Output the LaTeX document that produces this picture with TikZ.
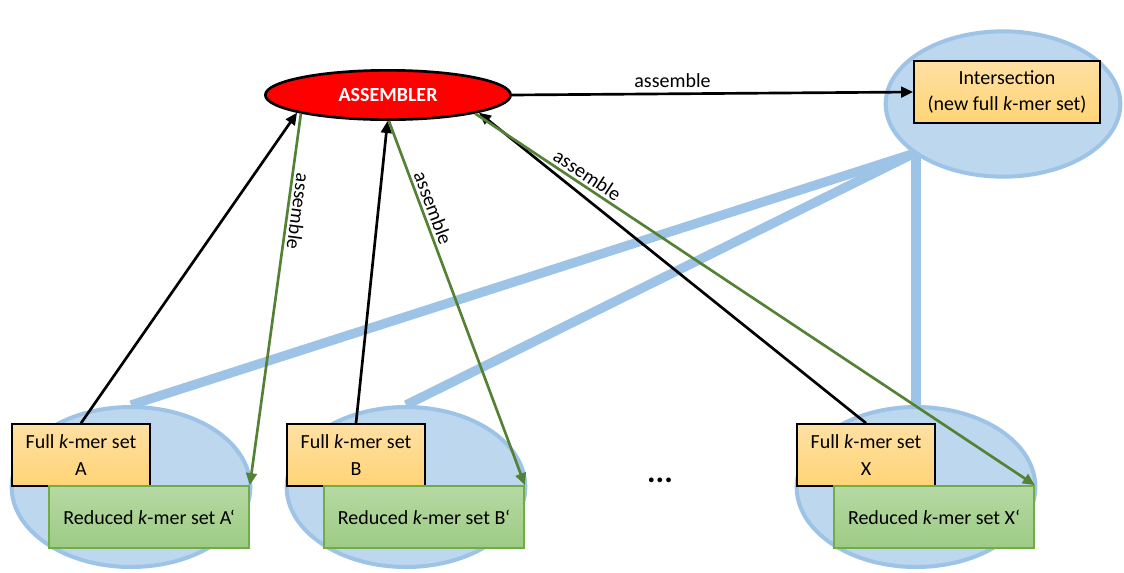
\documentclass[tikz,border=0pt]{standalone}
\usepackage{fontspec}
\setmainfont{Carlito}
\usepackage{xcolor}
\usepackage{tikz}
\usetikzlibrary{shapes,arrows.meta,calc}

\definecolor{hubblue}{HTML}{BDD7EE}
\definecolor{rimblue}{HTML}{9DC3E6}
\definecolor{goldtop}{HTML}{FFE0A4}
\definecolor{goldbot}{HTML}{FFD475}
\definecolor{leaftop}{HTML}{B6D9A3}
\definecolor{leafbot}{HTML}{9DCB84}
\definecolor{leafrim}{HTML}{70AD47}
\definecolor{asmgreen}{HTML}{548235}

\begin{document}
\begin{tikzpicture}[x=0.75pt,y=-0.75pt,font=\fontsize{15}{20}\selectfont,
	>={Triangle[length=9pt,width=8pt]},
	cloud/.style={ellipse,fill=hubblue,draw=rimblue,line width=3pt,minimum width=179pt,minimum height=120pt},
	fullset/.style={draw=black,line width=1.3pt,top color=goldtop,bottom color=goldbot,minimum width=103.5pt,minimum height=46.5pt,align=center,inner sep=0pt},
	redset/.style={draw=leafrim,line width=1.3pt,top color=leaftop,bottom color=leafbot,minimum width=150pt,minimum height=46.5pt,inner sep=0pt},
	link/.style={rimblue,line width=7pt},
	feed/.style={->,line width=2pt},
	build/.style={->,asmgreen,line width=2pt}]
				\useasboundingbox (0,0) rectangle (1124,572);
				\node[cloud,minimum width=176pt,minimum height=109pt] (hub) at (1003,104) {};
				\node[fullset,minimum width=139.5pt] (inter) at (1007,92) {Intersection\\(new full \textit{k}-mer set)};
				\node[ellipse,fill=red,draw=black,line width=2pt,minimum width=184pt,minimum height=37pt,text=white,font=\fontsize{15}{20}\selectfont\bfseries] (assembler) at (388,95) {ASSEMBLER};
				\foreach \n/\x in {A/131,B/406,X/916}{
				\node[cloud] (set\n) at (\x,487) {};
				\node[fullset] (full\n) at (\x-50,455) {Full \textit{k}-mer set\\\n};
				\node[redset] (red\n) at (\x+18,517) {Reduced \textit{k}-mer set \n‘};
				}
				\node[font=\fontsize{24}{24}\selectfont\bfseries] (dots) at (660,480) {...};
				% links from the intersection to every set
				\draw[link] (hub.209) -- (setA.north);
				\draw[link] (hub.209) -- (setB.north);
				\draw[link] (hub.209 -| setX.north) -- (setX.north);
				% assembling
				\draw[feed] (assembler.east) -- node[above,pos=0.4] {assemble} (inter.west);
				\foreach \n/\a/\b/\p in {A/191/192/0.26,B/269/272/0.25,X/349/348/0.19}{
				\draw[feed] (full\n.north) -- (assembler.\a);
				\draw[build] (assembler.\b) -- node[pos=\p,sloped,allow upside down,above,inner sep=2pt,text=black] {assemble} (red\n.north east);
				}
				\end{tikzpicture}
\end{document}
